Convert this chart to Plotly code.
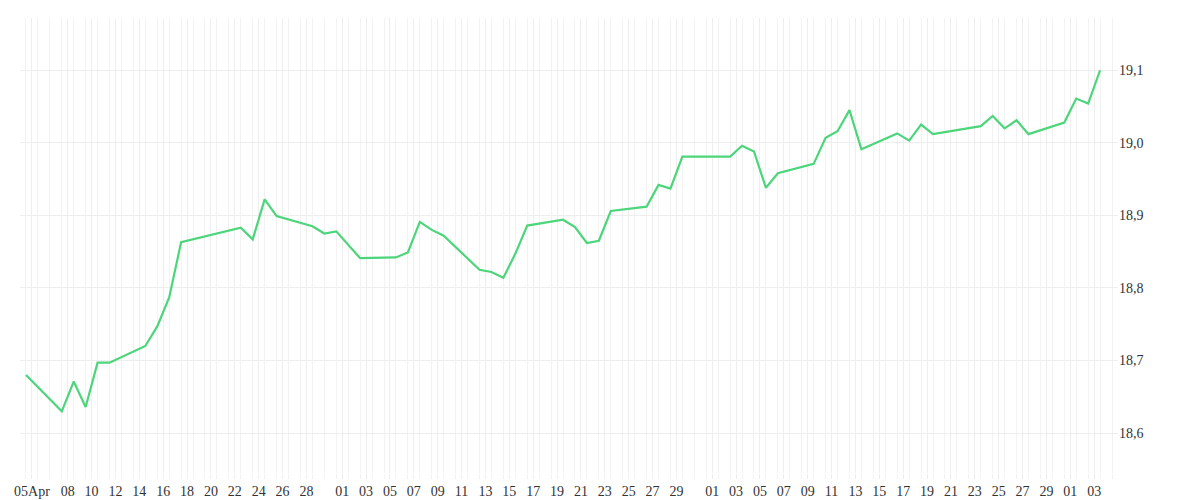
import plotly.graph_objects as go
import pandas as pd

dates = ["2019-04-05","2019-04-08","2019-04-09","2019-04-10","2019-04-11","2019-04-12","2019-04-15","2019-04-16","2019-04-17","2019-04-18",
 "2019-04-23","2019-04-24","2019-04-25","2019-04-26","2019-04-29","2019-04-30","2019-05-01","2019-05-03","2019-05-06","2019-05-07",
 "2019-05-08","2019-05-09","2019-05-10","2019-05-13","2019-05-14","2019-05-15","2019-05-16","2019-05-17","2019-05-20","2019-05-21",
 "2019-05-22","2019-05-23","2019-05-24","2019-05-27","2019-05-28","2019-05-29","2019-05-30","2019-05-31","2019-06-03","2019-06-04",
 "2019-06-05","2019-06-06","2019-06-07","2019-06-10","2019-06-11","2019-06-12","2019-06-13","2019-06-14","2019-06-17","2019-06-18",
 "2019-06-19","2019-06-20","2019-06-24","2019-06-25","2019-06-26","2019-06-27","2019-06-28","2019-07-01","2019-07-02","2019-07-03","2019-07-04"]
values = [18.680,18.630,18.671,18.636,18.697,18.697,18.720,18.747,18.787,18.863,
 18.883,18.867,18.922,18.899,18.885,18.875,18.878,18.841,18.842,18.849,
 18.891,18.880,18.872,18.825,18.822,18.814,18.847,18.886,18.894,18.884,
 18.862,18.865,18.906,18.912,18.942,18.937,18.981,18.981,18.981,18.996,
 18.988,18.938,18.958,18.971,19.007,19.016,19.045,18.991,19.013,19.003,
 19.025,19.012,19.023,19.037,19.020,19.031,19.012,19.028,19.061,19.054,19.100]

tick_dates = ["2019-04-05"] + [d.strftime("%Y-%m-%d") for d in pd.date_range("2019-04-08","2019-04-28",freq="2D")] \
    + [d.strftime("%Y-%m-%d") for d in pd.date_range("2019-05-01","2019-05-29",freq="2D")] \
    + [d.strftime("%Y-%m-%d") for d in pd.date_range("2019-06-01","2019-06-29",freq="2D")] \
    + ["2019-07-01","2019-07-03"]
tick_text = ["05Apr"] + [pd.Timestamp(d).strftime("%d") for d in tick_dates[1:]]
tick_pos = [pd.Timestamp(d) + pd.Timedelta(hours=12) for d in tick_dates]

fig = go.Figure(go.Scatter(x=pd.to_datetime(dates), y=values, mode="lines",
                           line=dict(color="#4cd57b", width=2.2), hoverinfo="x+y"))
fig.update_layout(
    width=1200, height=500, margin=dict(l=12, r=90, t=10, b=35),
    plot_bgcolor="white", paper_bgcolor="white", separators=",.",
    font=dict(family="Liberation Serif, serif", size=14, color="#333"),
    showlegend=False,
    xaxis=dict(type="date", range=["2019-04-04 12:00", "2019-07-05 12:00"], automargin=False,
               tickvals=tick_pos, ticktext=tick_text, tickangle=0,
               showgrid=True, gridcolor="#eeeeee", ticks="outside", ticklen=5, tickcolor="#eeeeee",
               minor=dict(dtick=86400000, showgrid=True, gridcolor="#f2f2f2", ticks="outside", ticklen=5, tickcolor="#f2f2f2"),
               zeroline=False, showline=False),
    yaxis=dict(side="right", range=[18.545, 19.172], dtick=0.1, tickformat=".1f", automargin=False,
               showgrid=True, gridcolor="#eeeeee", zeroline=False, showline=False, ticks=""),
)
fig.write_html("out.html")
